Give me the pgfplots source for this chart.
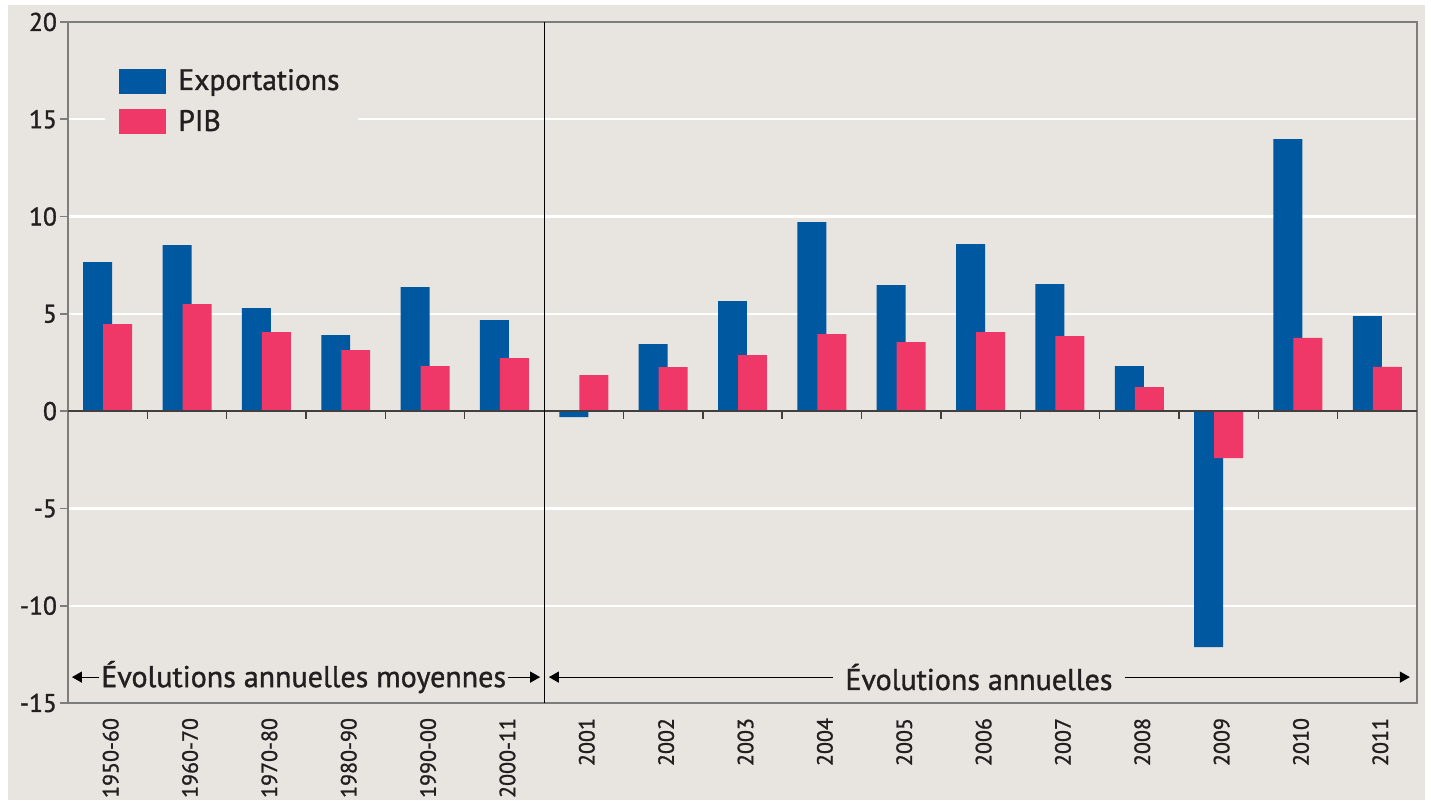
\documentclass[border=0pt]{standalone}
\usepackage{pgfplots}
\pgfplotsset{compat=1.18}
\usepackage{fontspec}
\setmainfont{PT Sans}[FakeBold=1.2]
\usetikzlibrary{arrows.meta}
\definecolor{bg}{RGB}{232,228,223}
\definecolor{expo}{RGB}{0,88,160}
\definecolor{pib}{RGB}{240,56,104}
\definecolor{txt}{RGB}{35,31,32}
\definecolor{frame}{RGB}{125,125,125}
\begin{document}
\begin{tikzpicture}
\path[use as bounding box, fill=white] (-34pt,-51.5pt) rectangle (681.5pt,351.5pt);
\fill[bg] (-30pt,-48.5pt) rectangle (678.5pt,349pt);
\begin{axis}[
  at={(0,0)}, anchor=south west, scale only axis,
  width=674.5pt, height=340.5pt,
  xmin=-0.5, xmax=16.5, ymin=-15, ymax=20,
  xtick={0,...,16},
  xticklabels={1950-60,1960-70,1970-80,1980-90,1990-00,2000-11,2001,2002,2003,2004,2005,2006,2007,2008,2009,2010,2011},
  x tick label style={rotate=90, anchor=east, font=\fontsize{11}{12}\selectfont, text=txt, yshift=-1.5pt},
  xtick style={draw=none},
  ytick={-15,-10,-5,0,5,10,15,20},
  yticklabels={-15,-10,-5,0,5,10,15,20},
  y tick label style={font=\fontsize{12.8}{13}\selectfont, text=txt, xshift=2pt},
  ytick pos=left, tick align=outside, major tick length=4pt,
  ytick style={frame, line width=0.8pt},
  ymajorgrids, grid style={white, line width=1.2pt},
  axis line style={frame, line width=1pt},
  legend style={at={(0.0274,0.955)}, anchor=north west, draw=none, fill=bg,
    font=\fontsize{14.8}{15.5}\selectfont, text=txt, cells={anchor=west},
    row sep=4.5pt, inner xsep=7pt, inner ysep=6pt,
    /tikz/every odd column/.append style={column sep=4pt}},
  legend image code/.code={\fill[#1] (0pt,-6.25pt) rectangle (23.5pt,6.25pt);},
]
\addplot[ybar, bar width=0.365, bar shift=-0.126, fill=expo, draw=none] coordinates {
(0,7.66) (1,8.53) (2,5.29) (3,3.90) (4,6.37) (5,4.68) (6,-0.31) (7,3.44) (8,5.65)
(9,9.71) (10,6.47) (11,8.58) (12,6.53) (13,2.31) (14,-12.13) (15,13.98) (16,4.88)};
\addlegendentry{Exportations}
\addplot[ybar, bar width=0.365, bar shift=0.126, fill=pib, draw=none] coordinates {
(0,4.47) (1,5.50) (2,4.06) (3,3.13) (4,2.31) (5,2.72) (6,1.85) (7,2.26) (8,2.88)
(9,3.96) (10,3.55) (11,4.06) (12,3.85) (13,1.23) (14,-2.42) (15,3.77) (16,2.28)};
\addlegendentry{PIB}
% zero line and boundary ticks
\draw[black!75, line width=1pt] (axis cs:-0.5,0) -- (axis cs:16.5,0);
\pgfplotsinvokeforeach{0.5,1.5,2.5,3.5,4.5,6.5,7.5,8.5,9.5,10.5,11.5,12.5,13.5,14.5,15.5}
  {\draw[black!75, line width=0.7pt] (axis cs:#1,0) -- ([yshift=-4pt]axis cs:#1,0);}
% separator
\draw[black, line width=0.6pt] (axis cs:5.5,20) -- ([yshift=-7.5pt]axis cs:5.5,-15);
% annotations
\node[text=txt, font=\fontsize{15}{16}\selectfont, inner xsep=1pt] (t1) at (axis cs:2.47,-13.67) {Évolutions annuelles moyennes};
\draw[-{Triangle[length=5pt,width=5.5pt]}, line width=0.6pt] (t1.west) -- (axis cs:-0.45,-13.67);
\draw[-{Triangle[length=5pt,width=5.5pt]}, line width=0.6pt] (t1.east) -- (axis cs:5.45,-13.67);
\node[text=txt, font=\fontsize{15}{16}\selectfont, inner xsep=6pt] (t2) at (axis cs:10.98,-13.67) {Évolutions annuelles};
\draw[-{Triangle[length=5pt,width=5.5pt]}, line width=0.6pt] (t2.west) -- (axis cs:5.56,-13.67);
\draw[-{Triangle[length=5pt,width=5.5pt]}, line width=0.6pt] (t2.east) -- (axis cs:16.41,-13.67);
\end{axis}
\end{tikzpicture}
\end{document}
